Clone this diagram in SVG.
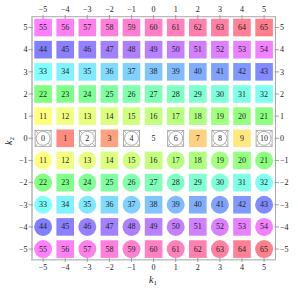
<svg xmlns="http://www.w3.org/2000/svg" xmlns:xlink="http://www.w3.org/1999/xlink" width="298" height="291" viewBox="0 0 298 291">
<style>
text{font-family:"Liberation Serif","Times New Roman",serif;fill:#222}
.t{font-size:8px;text-anchor:middle;dominant-baseline:central}
.tk{font-size:8px;fill:#333}
.tm{text-anchor:middle}
.te{text-anchor:end}
.ax{font-size:10px;font-style:italic}
.sub{font-size:7px;font-style:normal}
.tick{stroke:#8c8c8c;stroke-width:0.8}
</style>
<defs>
<g id="zsym">
<rect x="-8" y="-8" width="16" height="16" fill="#fff" stroke="#999" stroke-width="0.8"/>
<path d="M-8,-8L-4.9,-4.9M8,-8L4.9,-4.9M-8,8L-4.9,4.9M8,8L4.9,4.9" stroke="#999" stroke-width="0.8"/>
<circle r="7" fill="#fff" stroke="#999" stroke-width="0.8"/>
</g>
</defs>
<rect width="298" height="291" fill="#fff"/>
<g id="frame">
<rect x="32" y="16.7" width="243.5" height="243" fill="none" stroke="#aaa" stroke-width="1"/>
<line x1="32" y1="16.7" x2="32" y2="260.2" stroke="#c8c8c8" stroke-width="2"/>
<line x1="31" y1="259.7" x2="275.5" y2="259.7" stroke="#c8c8c8" stroke-width="1.5"/>
<path class="tick" d="M43.1,15V19M65.2,15V19M87.3,15V19M109.4,15V19M131.5,15V19M153.6,15V19M175.7,15V19M197.8,15V19M219.9,15V19M242,15V19M264.1,15V19M43.1,258V262M65.2,258V262M87.3,258V262M109.4,258V262M131.5,258V262M153.6,258V262M175.7,258V262M197.8,258V262M219.9,258V262M242,258V262M264.1,258V262M28.5,27.55H33M28.5,49.7H33M28.5,71.85H33M28.5,94H33M28.5,116.15H33M28.5,138.3H33M28.5,160.45H33M28.5,182.6H33M28.5,204.75H33M28.5,226.9H33M28.5,249.05H33M274.5,27.55H279M274.5,49.7H279M274.5,71.85H279M274.5,94H279M274.5,116.15H279M274.5,138.3H279M274.5,160.45H279M274.5,182.6H279M274.5,204.75H279M274.5,226.9H279M274.5,249.05H279"/>
<g class="tk tm">
<text x="43.1" y="12.3">−5</text><text x="65.2" y="12.3">−4</text><text x="87.3" y="12.3">−3</text><text x="109.4" y="12.3">−2</text><text x="131.5" y="12.3">−1</text><text x="153.6" y="12.3">0</text><text x="175.7" y="12.3">1</text><text x="197.8" y="12.3">2</text><text x="219.9" y="12.3">3</text><text x="242" y="12.3">4</text><text x="264.1" y="12.3">5</text>
<text x="43.1" y="270">−5</text><text x="65.2" y="270">−4</text><text x="87.3" y="270">−3</text><text x="109.4" y="270">−2</text><text x="131.5" y="270">−1</text><text x="153.6" y="270">0</text><text x="175.7" y="270">1</text><text x="197.8" y="270">2</text><text x="219.9" y="270">3</text><text x="242" y="270">4</text><text x="264.1" y="270">5</text>
</g>
<g class="tk te">
<text x="27.5" y="30.3">5</text><text x="27.5" y="52.4">4</text><text x="27.5" y="74.6">3</text><text x="27.5" y="96.7">2</text><text x="27.5" y="118.9">1</text><text x="27.5" y="141">0</text><text x="27.5" y="163.2">−1</text><text x="27.5" y="185.3">−2</text><text x="27.5" y="207.5">−3</text><text x="27.5" y="229.6">−4</text><text x="27.5" y="251.8">−5</text>
</g>
<g class="tk">
<text x="280" y="30.3">5</text><text x="280" y="52.4">4</text><text x="280" y="74.6">3</text><text x="280" y="96.7">2</text><text x="280" y="118.9">1</text><text x="280" y="141">0</text><text x="280" y="163.2">−1</text><text x="280" y="185.3">−2</text><text x="280" y="207.5">−3</text><text x="280" y="229.6">−4</text><text x="280" y="251.8">−5</text>
</g>
<text class="ax" x="149" y="283">k<tspan class="sub" dy="2">1</tspan></text>
<text class="ax" x="12" y="141" transform="rotate(-90 12 141)" text-anchor="middle">k<tspan class="sub" dy="2">2</tspan></text>
</g>
<g id="connectors"/>
<g id="nodes">
<!-- row k2=5 -->
<g id="n55"><rect x="34.3" y="18.75" width="17.6" height="17.6" fill="#FF80FF"/><text class="t" x="43.1" y="27.55">55</text></g>
<g id="n56"><rect x="56.4" y="18.75" width="17.6" height="17.6" fill="#FF80F3"/><text class="t" x="65.2" y="27.55">56</text></g>
<g id="n57"><rect x="78.5" y="18.75" width="17.6" height="17.6" fill="#FF80E8"/><text class="t" x="87.3" y="27.55">57</text></g>
<g id="n58"><rect x="100.6" y="18.75" width="17.6" height="17.6" fill="#FF80DC"/><text class="t" x="109.4" y="27.55">58</text></g>
<g id="n59"><rect x="122.7" y="18.75" width="17.6" height="17.6" fill="#FF80D1"/><text class="t" x="131.5" y="27.55">59</text></g>
<g id="n60"><rect x="144.8" y="18.75" width="17.6" height="17.6" fill="#FF80C5"/><text class="t" x="153.6" y="27.55">60</text></g>
<g id="n61"><rect x="166.9" y="18.75" width="17.6" height="17.6" fill="#FF80BA"/><text class="t" x="175.7" y="27.55">61</text></g>
<g id="n62"><rect x="189" y="18.75" width="17.6" height="17.6" fill="#FF80AE"/><text class="t" x="197.8" y="27.55">62</text></g>
<g id="n63"><rect x="211.1" y="18.75" width="17.6" height="17.6" fill="#FF80A2"/><text class="t" x="219.9" y="27.55">63</text></g>
<g id="n64"><rect x="233.2" y="18.75" width="17.6" height="17.6" fill="#FF8097"/><text class="t" x="242" y="27.55">64</text></g>
<g id="n65"><rect x="255.3" y="18.75" width="17.6" height="17.6" fill="#FF808B"/><text class="t" x="264.1" y="27.55">65</text></g>
<!-- row k2=4 -->
<g id="n44"><rect x="34.3" y="40.9" width="17.6" height="17.6" fill="#8080FF"/><text class="t" x="43.1" y="49.7">44</text></g>
<g id="n45"><rect x="56.4" y="40.9" width="17.6" height="17.6" fill="#8B80FF"/><text class="t" x="65.2" y="49.7">45</text></g>
<g id="n46"><rect x="78.5" y="40.9" width="17.6" height="17.6" fill="#9780FF"/><text class="t" x="87.3" y="49.7">46</text></g>
<g id="n47"><rect x="100.6" y="40.9" width="17.6" height="17.6" fill="#A280FF"/><text class="t" x="109.4" y="49.7">47</text></g>
<g id="n48"><rect x="122.7" y="40.9" width="17.6" height="17.6" fill="#AE80FF"/><text class="t" x="131.5" y="49.7">48</text></g>
<g id="n49"><rect x="144.8" y="40.9" width="17.6" height="17.6" fill="#B980FF"/><text class="t" x="153.6" y="49.7">49</text></g>
<g id="n50"><rect x="166.9" y="40.9" width="17.6" height="17.6" fill="#C580FF"/><text class="t" x="175.7" y="49.7">50</text></g>
<g id="n51"><rect x="189" y="40.9" width="17.6" height="17.6" fill="#D180FF"/><text class="t" x="197.8" y="49.7">51</text></g>
<g id="n52"><rect x="211.1" y="40.9" width="17.6" height="17.6" fill="#DC80FF"/><text class="t" x="219.9" y="49.7">52</text></g>
<g id="n53"><rect x="233.2" y="40.9" width="17.6" height="17.6" fill="#E880FF"/><text class="t" x="242" y="49.7">53</text></g>
<g id="n54"><rect x="255.3" y="40.9" width="17.6" height="17.6" fill="#F380FF"/><text class="t" x="264.1" y="49.7">54</text></g>
<!-- row k2=3 -->
<g id="n33"><rect x="34.3" y="63.05" width="17.6" height="17.6" fill="#80FFFF"/><text class="t" x="43.1" y="71.85">33</text></g>
<g id="n34"><rect x="56.4" y="63.05" width="17.6" height="17.6" fill="#80F3FF"/><text class="t" x="65.2" y="71.85">34</text></g>
<g id="n35"><rect x="78.5" y="63.05" width="17.6" height="17.6" fill="#80E8FF"/><text class="t" x="87.3" y="71.85">35</text></g>
<g id="n36"><rect x="100.6" y="63.05" width="17.6" height="17.6" fill="#80DCFF"/><text class="t" x="109.4" y="71.85">36</text></g>
<g id="n37"><rect x="122.7" y="63.05" width="17.6" height="17.6" fill="#80D1FF"/><text class="t" x="131.5" y="71.85">37</text></g>
<g id="n38"><rect x="144.8" y="63.05" width="17.6" height="17.6" fill="#80C5FF"/><text class="t" x="153.6" y="71.85">38</text></g>
<g id="n39"><rect x="166.9" y="63.05" width="17.6" height="17.6" fill="#80BAFF"/><text class="t" x="175.7" y="71.85">39</text></g>
<g id="n40"><rect x="189" y="63.05" width="17.6" height="17.6" fill="#80AEFF"/><text class="t" x="197.8" y="71.85">40</text></g>
<g id="n41"><rect x="211.1" y="63.05" width="17.6" height="17.6" fill="#80A2FF"/><text class="t" x="219.9" y="71.85">41</text></g>
<g id="n42"><rect x="233.2" y="63.05" width="17.6" height="17.6" fill="#8097FF"/><text class="t" x="242" y="71.85">42</text></g>
<g id="n43"><rect x="255.3" y="63.05" width="17.6" height="17.6" fill="#808BFF"/><text class="t" x="264.1" y="71.85">43</text></g>
<!-- row k2=2 -->
<g id="n22"><rect x="34.3" y="85.2" width="17.6" height="17.6" fill="#80FF80"/><text class="t" x="43.1" y="94">22</text></g>
<g id="n23"><rect x="56.4" y="85.2" width="17.6" height="17.6" fill="#80FF8B"/><text class="t" x="65.2" y="94">23</text></g>
<g id="n24"><rect x="78.5" y="85.2" width="17.6" height="17.6" fill="#80FF97"/><text class="t" x="87.3" y="94">24</text></g>
<g id="n25"><rect x="100.6" y="85.2" width="17.6" height="17.6" fill="#80FFA2"/><text class="t" x="109.4" y="94">25</text></g>
<g id="n26"><rect x="122.7" y="85.2" width="17.6" height="17.6" fill="#80FFAE"/><text class="t" x="131.5" y="94">26</text></g>
<g id="n27"><rect x="144.8" y="85.2" width="17.6" height="17.6" fill="#80FFB9"/><text class="t" x="153.6" y="94">27</text></g>
<g id="n28"><rect x="166.9" y="85.2" width="17.6" height="17.6" fill="#80FFC5"/><text class="t" x="175.7" y="94">28</text></g>
<g id="n29"><rect x="189" y="85.2" width="17.6" height="17.6" fill="#80FFD1"/><text class="t" x="197.8" y="94">29</text></g>
<g id="n30"><rect x="211.1" y="85.2" width="17.6" height="17.6" fill="#80FFDC"/><text class="t" x="219.9" y="94">30</text></g>
<g id="n31"><rect x="233.2" y="85.2" width="17.6" height="17.6" fill="#80FFE8"/><text class="t" x="242" y="94">31</text></g>
<g id="n32"><rect x="255.3" y="85.2" width="17.6" height="17.6" fill="#80FFF3"/><text class="t" x="264.1" y="94">32</text></g>
<!-- row k2=1 -->
<g id="n11"><rect x="34.3" y="107.35" width="17.6" height="17.6" fill="#FFFF80"/><text class="t" x="43.1" y="116.15">11</text></g>
<g id="n12"><rect x="56.4" y="107.35" width="17.6" height="17.6" fill="#F3FF80"/><text class="t" x="65.2" y="116.15">12</text></g>
<g id="n13"><rect x="78.5" y="107.35" width="17.6" height="17.6" fill="#E8FF80"/><text class="t" x="87.3" y="116.15">13</text></g>
<g id="n14"><rect x="100.6" y="107.35" width="17.6" height="17.6" fill="#DCFF80"/><text class="t" x="109.4" y="116.15">14</text></g>
<g id="n15"><rect x="122.7" y="107.35" width="17.6" height="17.6" fill="#D1FF80"/><text class="t" x="131.5" y="116.15">15</text></g>
<g id="n16"><rect x="144.8" y="107.35" width="17.6" height="17.6" fill="#C5FF80"/><text class="t" x="153.6" y="116.15">16</text></g>
<g id="n17"><rect x="166.9" y="107.35" width="17.6" height="17.6" fill="#BAFF80"/><text class="t" x="175.7" y="116.15">17</text></g>
<g id="n18"><rect x="189" y="107.35" width="17.6" height="17.6" fill="#AEFF80"/><text class="t" x="197.8" y="116.15">18</text></g>
<g id="n19"><rect x="211.1" y="107.35" width="17.6" height="17.6" fill="#A2FF80"/><text class="t" x="219.9" y="116.15">19</text></g>
<g id="n20"><rect x="233.2" y="107.35" width="17.6" height="17.6" fill="#97FF80"/><text class="t" x="242" y="116.15">20</text></g>
<g id="n21"><rect x="255.3" y="107.35" width="17.6" height="17.6" fill="#8BFF80"/><text class="t" x="264.1" y="116.15">21</text></g>
<!-- row k2=0 -->
<g id="n0"><use xlink:href="#zsym" transform="translate(43.1 138.3)"/><text class="t" x="43.1" y="138.3">0</text></g>
<g id="n1"><rect x="56.4" y="129.5" width="17.6" height="17.6" fill="#FF8B80"/><text class="t" x="65.2" y="138.3">1</text></g>
<g id="n2"><use xlink:href="#zsym" transform="translate(87.3 138.3)"/><text class="t" x="87.3" y="138.3">2</text></g>
<g id="n3"><rect x="100.6" y="129.5" width="17.6" height="17.6" fill="#FFA280"/><text class="t" x="109.4" y="138.3">3</text></g>
<g id="n4"><use xlink:href="#zsym" transform="translate(131.5 138.3)"/><text class="t" x="131.5" y="138.3">4</text></g>
<g id="n5"><text class="t" x="153.6" y="138.3">5</text></g>
<g id="n6"><use xlink:href="#zsym" transform="translate(175.7 138.3)"/><text class="t" x="175.7" y="138.3">6</text></g>
<g id="n7"><rect x="189" y="129.5" width="17.6" height="17.6" fill="#FFD180"/><text class="t" x="197.8" y="138.3">7</text></g>
<g id="n8"><use xlink:href="#zsym" transform="translate(219.9 138.3)"/><text class="t" x="219.9" y="138.3">8</text></g>
<g id="n9"><rect x="233.2" y="129.5" width="17.6" height="17.6" fill="#FFE880"/><text class="t" x="242" y="138.3">9</text></g>
<g id="n10"><use xlink:href="#zsym" transform="translate(264.1 138.3)"/><text class="t" x="264.1" y="138.3">10</text></g>
<!-- row k2=-1 -->
<g id="m11"><circle cx="43.1" cy="160.45" r="9" fill="#FFFF80"/><text class="t" x="43.1" y="160.45">11</text></g>
<g id="m12"><rect x="56.4" y="151.65" width="17.6" height="17.6" fill="#F3FF80"/><text class="t" x="65.2" y="160.45">12</text></g>
<g id="m13"><circle cx="87.3" cy="160.45" r="9" fill="#E8FF80"/><text class="t" x="87.3" y="160.45">13</text></g>
<g id="m14"><rect x="100.6" y="151.65" width="17.6" height="17.6" fill="#DCFF80"/><text class="t" x="109.4" y="160.45">14</text></g>
<g id="m15"><circle cx="131.5" cy="160.45" r="9" fill="#D1FF80"/><text class="t" x="131.5" y="160.45">15</text></g>
<g id="m16"><rect x="144.8" y="151.65" width="17.6" height="17.6" fill="#C5FF80"/><text class="t" x="153.6" y="160.45">16</text></g>
<g id="m17"><circle cx="175.7" cy="160.45" r="9" fill="#BAFF80"/><text class="t" x="175.7" y="160.45">17</text></g>
<g id="m18"><rect x="189" y="151.65" width="17.6" height="17.6" fill="#AEFF80"/><text class="t" x="197.8" y="160.45">18</text></g>
<g id="m19"><circle cx="219.9" cy="160.45" r="9" fill="#A2FF80"/><text class="t" x="219.9" y="160.45">19</text></g>
<g id="m20"><rect x="233.2" y="151.65" width="17.6" height="17.6" fill="#97FF80"/><text class="t" x="242" y="160.45">20</text></g>
<g id="m21"><circle cx="264.1" cy="160.45" r="9" fill="#8BFF80"/><text class="t" x="264.1" y="160.45">21</text></g>
<!-- row k2=-2 -->
<g id="m22"><circle cx="43.1" cy="182.6" r="9" fill="#80FF80"/><text class="t" x="43.1" y="182.6">22</text></g>
<g id="m23"><rect x="56.4" y="173.8" width="17.6" height="17.6" fill="#80FF8B"/><text class="t" x="65.2" y="182.6">23</text></g>
<g id="m24"><circle cx="87.3" cy="182.6" r="9" fill="#80FF97"/><text class="t" x="87.3" y="182.6">24</text></g>
<g id="m25"><rect x="100.6" y="173.8" width="17.6" height="17.6" fill="#80FFA2"/><text class="t" x="109.4" y="182.6">25</text></g>
<g id="m26"><circle cx="131.5" cy="182.6" r="9" fill="#80FFAE"/><text class="t" x="131.5" y="182.6">26</text></g>
<g id="m27"><rect x="144.8" y="173.8" width="17.6" height="17.6" fill="#80FFB9"/><text class="t" x="153.6" y="182.6">27</text></g>
<g id="m28"><circle cx="175.7" cy="182.6" r="9" fill="#80FFC5"/><text class="t" x="175.7" y="182.6">28</text></g>
<g id="m29"><rect x="189" y="173.8" width="17.6" height="17.6" fill="#80FFD1"/><text class="t" x="197.8" y="182.6">29</text></g>
<g id="m30"><circle cx="219.9" cy="182.6" r="9" fill="#80FFDC"/><text class="t" x="219.9" y="182.6">30</text></g>
<g id="m31"><rect x="233.2" y="173.8" width="17.6" height="17.6" fill="#80FFE8"/><text class="t" x="242" y="182.6">31</text></g>
<g id="m32"><circle cx="264.1" cy="182.6" r="9" fill="#80FFF3"/><text class="t" x="264.1" y="182.6">32</text></g>
<!-- row k2=-3 -->
<g id="m33"><circle cx="43.1" cy="204.75" r="9" fill="#80FFFF"/><text class="t" x="43.1" y="204.75">33</text></g>
<g id="m34"><rect x="56.4" y="195.95" width="17.6" height="17.6" fill="#80F3FF"/><text class="t" x="65.2" y="204.75">34</text></g>
<g id="m35"><circle cx="87.3" cy="204.75" r="9" fill="#80E8FF"/><text class="t" x="87.3" y="204.75">35</text></g>
<g id="m36"><rect x="100.6" y="195.95" width="17.6" height="17.6" fill="#80DCFF"/><text class="t" x="109.4" y="204.75">36</text></g>
<g id="m37"><circle cx="131.5" cy="204.75" r="9" fill="#80D1FF"/><text class="t" x="131.5" y="204.75">37</text></g>
<g id="m38"><rect x="144.8" y="195.95" width="17.6" height="17.6" fill="#80C5FF"/><text class="t" x="153.6" y="204.75">38</text></g>
<g id="m39"><circle cx="175.7" cy="204.75" r="9" fill="#80BAFF"/><text class="t" x="175.7" y="204.75">39</text></g>
<g id="m40"><rect x="189" y="195.95" width="17.6" height="17.6" fill="#80AEFF"/><text class="t" x="197.8" y="204.75">40</text></g>
<g id="m41"><circle cx="219.9" cy="204.75" r="9" fill="#80A2FF"/><text class="t" x="219.9" y="204.75">41</text></g>
<g id="m42"><rect x="233.2" y="195.95" width="17.6" height="17.6" fill="#8097FF"/><text class="t" x="242" y="204.75">42</text></g>
<g id="m43"><circle cx="264.1" cy="204.75" r="9" fill="#808BFF"/><text class="t" x="264.1" y="204.75">43</text></g>
<!-- row k2=-4 -->
<g id="m44"><circle cx="43.1" cy="226.9" r="9" fill="#8080FF"/><text class="t" x="43.1" y="226.9">44</text></g>
<g id="m45"><rect x="56.4" y="218.1" width="17.6" height="17.6" fill="#8B80FF"/><text class="t" x="65.2" y="226.9">45</text></g>
<g id="m46"><circle cx="87.3" cy="226.9" r="9" fill="#9780FF"/><text class="t" x="87.3" y="226.9">46</text></g>
<g id="m47"><rect x="100.6" y="218.1" width="17.6" height="17.6" fill="#A280FF"/><text class="t" x="109.4" y="226.9">47</text></g>
<g id="m48"><circle cx="131.5" cy="226.9" r="9" fill="#AE80FF"/><text class="t" x="131.5" y="226.9">48</text></g>
<g id="m49"><rect x="144.8" y="218.1" width="17.6" height="17.6" fill="#B980FF"/><text class="t" x="153.6" y="226.9">49</text></g>
<g id="m50"><circle cx="175.7" cy="226.9" r="9" fill="#C580FF"/><text class="t" x="175.7" y="226.9">50</text></g>
<g id="m51"><rect x="189" y="218.1" width="17.6" height="17.6" fill="#D180FF"/><text class="t" x="197.8" y="226.9">51</text></g>
<g id="m52"><circle cx="219.9" cy="226.9" r="9" fill="#DC80FF"/><text class="t" x="219.9" y="226.9">52</text></g>
<g id="m53"><rect x="233.2" y="218.1" width="17.6" height="17.6" fill="#E880FF"/><text class="t" x="242" y="226.9">53</text></g>
<g id="m54"><circle cx="264.1" cy="226.9" r="9" fill="#F380FF"/><text class="t" x="264.1" y="226.9">54</text></g>
<!-- row k2=-5 -->
<g id="m55"><circle cx="43.1" cy="249.05" r="9" fill="#FF80FF"/><text class="t" x="43.1" y="249.05">55</text></g>
<g id="m56"><rect x="56.4" y="240.25" width="17.6" height="17.6" fill="#FF80F3"/><text class="t" x="65.2" y="249.05">56</text></g>
<g id="m57"><circle cx="87.3" cy="249.05" r="9" fill="#FF80E8"/><text class="t" x="87.3" y="249.05">57</text></g>
<g id="m58"><rect x="100.6" y="240.25" width="17.6" height="17.6" fill="#FF80DC"/><text class="t" x="109.4" y="249.05">58</text></g>
<g id="m59"><circle cx="131.5" cy="249.05" r="9" fill="#FF80D1"/><text class="t" x="131.5" y="249.05">59</text></g>
<g id="m60"><rect x="144.8" y="240.25" width="17.6" height="17.6" fill="#FF80C5"/><text class="t" x="153.6" y="249.05">60</text></g>
<g id="m61"><circle cx="175.7" cy="249.05" r="9" fill="#FF80BA"/><text class="t" x="175.7" y="249.05">61</text></g>
<g id="m62"><rect x="189" y="240.25" width="17.6" height="17.6" fill="#FF80AE"/><text class="t" x="197.8" y="249.05">62</text></g>
<g id="m63"><circle cx="219.9" cy="249.05" r="9" fill="#FF80A2"/><text class="t" x="219.9" y="249.05">63</text></g>
<g id="m64"><rect x="233.2" y="240.25" width="17.6" height="17.6" fill="#FF8097"/><text class="t" x="242" y="249.05">64</text></g>
<g id="m65"><circle cx="264.1" cy="249.05" r="9" fill="#FF808B"/><text class="t" x="264.1" y="249.05">65</text></g>
</g>
</svg>
